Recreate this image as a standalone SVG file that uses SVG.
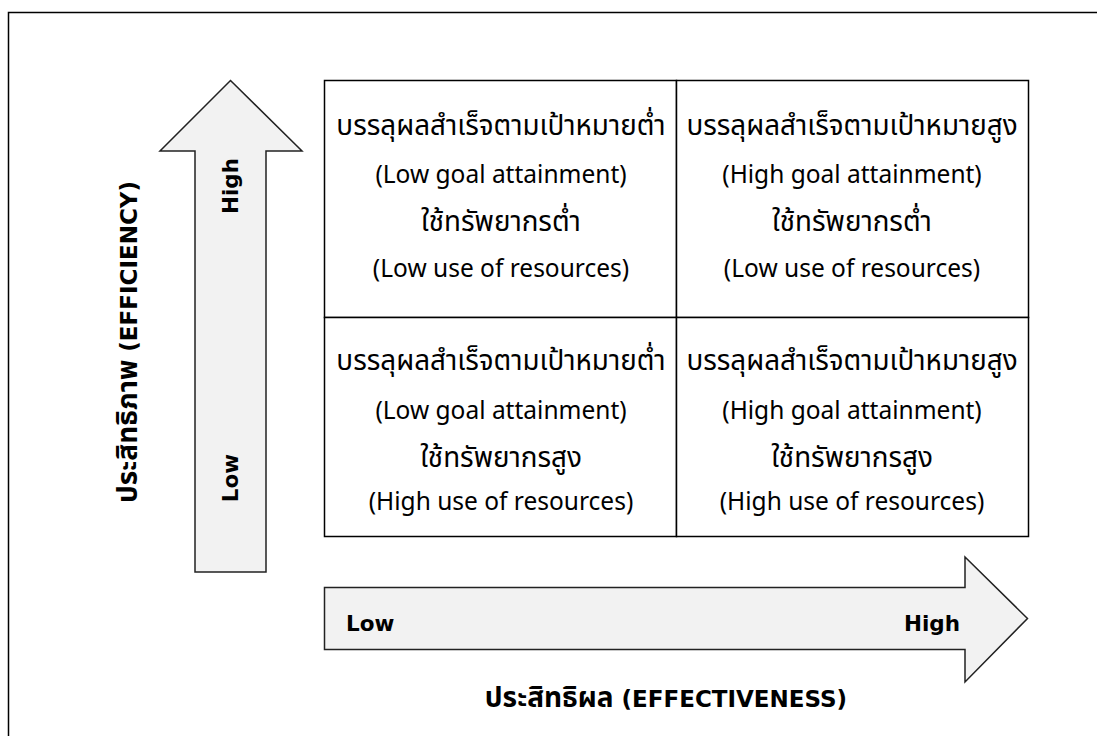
<svg xmlns="http://www.w3.org/2000/svg" width="1097" height="736" viewBox="0 0 1097 736">
<style>
  .frame{fill:none;stroke:#000;stroke-width:1.5}
  .cell{fill:#fff;stroke:#000;stroke-width:1.5}
  .arrow{fill:#f2f2f2;stroke:#222;stroke-width:1.5;stroke-linejoin:miter}
  text{font-family:"Noto Sans","Noto Sans Thai","DejaVu Sans",sans-serif;fill:#000}
  .ct{font-size:24.5px;text-anchor:middle}
  .th{font-family:"Noto Sans Thai","Noto Sans",sans-serif;font-size:27.8px;text-anchor:middle}
  .lbl{font-family:"DejaVu Sans",sans-serif;font-size:21.5px;font-weight:bold}
  .ttl{font-family:"DejaVu Sans",sans-serif;font-size:23px;font-weight:bold;text-anchor:middle}
  .tth{font-family:"Noto Sans Thai","Noto Sans",sans-serif;font-size:28px;font-weight:bold}
</style>
<rect width="1097" height="736" fill="#fff"/>
<path class="frame" d="M8.5,740 V12.5 H1100"/>
<g id="axis-efficiency">
  <path class="arrow" d="M230.5,80.5 L302,151 H266 V572 H195 V151 H160 Z"/>
  <text class="lbl" transform="translate(238,186) rotate(-90)" text-anchor="middle">High</text>
  <text class="lbl" transform="translate(238,478) rotate(-90)" text-anchor="middle">Low</text>
  <text class="ttl" transform="translate(137,342) rotate(-90)"><tspan class="tth">ประสิทธิภาพ</tspan> (EFFICIENCY)</text>
</g>
<g id="axis-effectiveness">
  <path class="arrow" d="M324.5,587.5 H965 V557 L1027.5,618.5 L965,682 V649.5 H324.5 Z"/>
  <text class="lbl" x="346" y="631">Low</text>
  <text class="lbl" x="960" y="631" text-anchor="end">High</text>
  <text class="ttl" x="666" y="707"><tspan class="tth">ประสิทธิผล</tspan> (EFFECTIVENESS)</text>
</g>
<g id="cell-top-left">
  <rect class="cell" x="324.5" y="80.5" width="352" height="237"/>
  <text class="th" x="501" y="135">บรรลุผลสำเร็จตามเป้าหมายต่ำ</text>
  <text class="ct" x="501" y="183">(Low goal attainment)</text>
  <text class="th" x="501" y="231">ใช้ทรัพยากรต่ำ</text>
  <text class="ct" x="501" y="277">(Low use of resources)</text>
</g>
<g id="cell-top-right">
  <rect class="cell" x="676.5" y="80.5" width="352" height="237"/>
  <text class="th" x="852" y="135">บรรลุผลสำเร็จตามเป้าหมายสูง</text>
  <text class="ct" x="852" y="183">(High goal attainment)</text>
  <text class="th" x="852" y="231">ใช้ทรัพยากรต่ำ</text>
  <text class="ct" x="852" y="277">(Low use of resources)</text>
</g>
<g id="cell-bottom-left">
  <rect class="cell" x="324.5" y="317.5" width="352" height="219"/>
  <text class="th" x="501" y="370">บรรลุผลสำเร็จตามเป้าหมายต่ำ</text>
  <text class="ct" x="501" y="419">(Low goal attainment)</text>
  <text class="th" x="501" y="467">ใช้ทรัพยากรสูง</text>
  <text class="ct" x="501" y="510">(High use of resources)</text>
</g>
<g id="cell-bottom-right">
  <rect class="cell" x="676.5" y="317.5" width="352" height="219"/>
  <text class="th" x="852" y="370">บรรลุผลสำเร็จตามเป้าหมายสูง</text>
  <text class="ct" x="852" y="419">(High goal attainment)</text>
  <text class="th" x="852" y="467">ใช้ทรัพยากรสูง</text>
  <text class="ct" x="852" y="510">(High use of resources)</text>
</g>
<g id="connectors"></g>
</svg>
